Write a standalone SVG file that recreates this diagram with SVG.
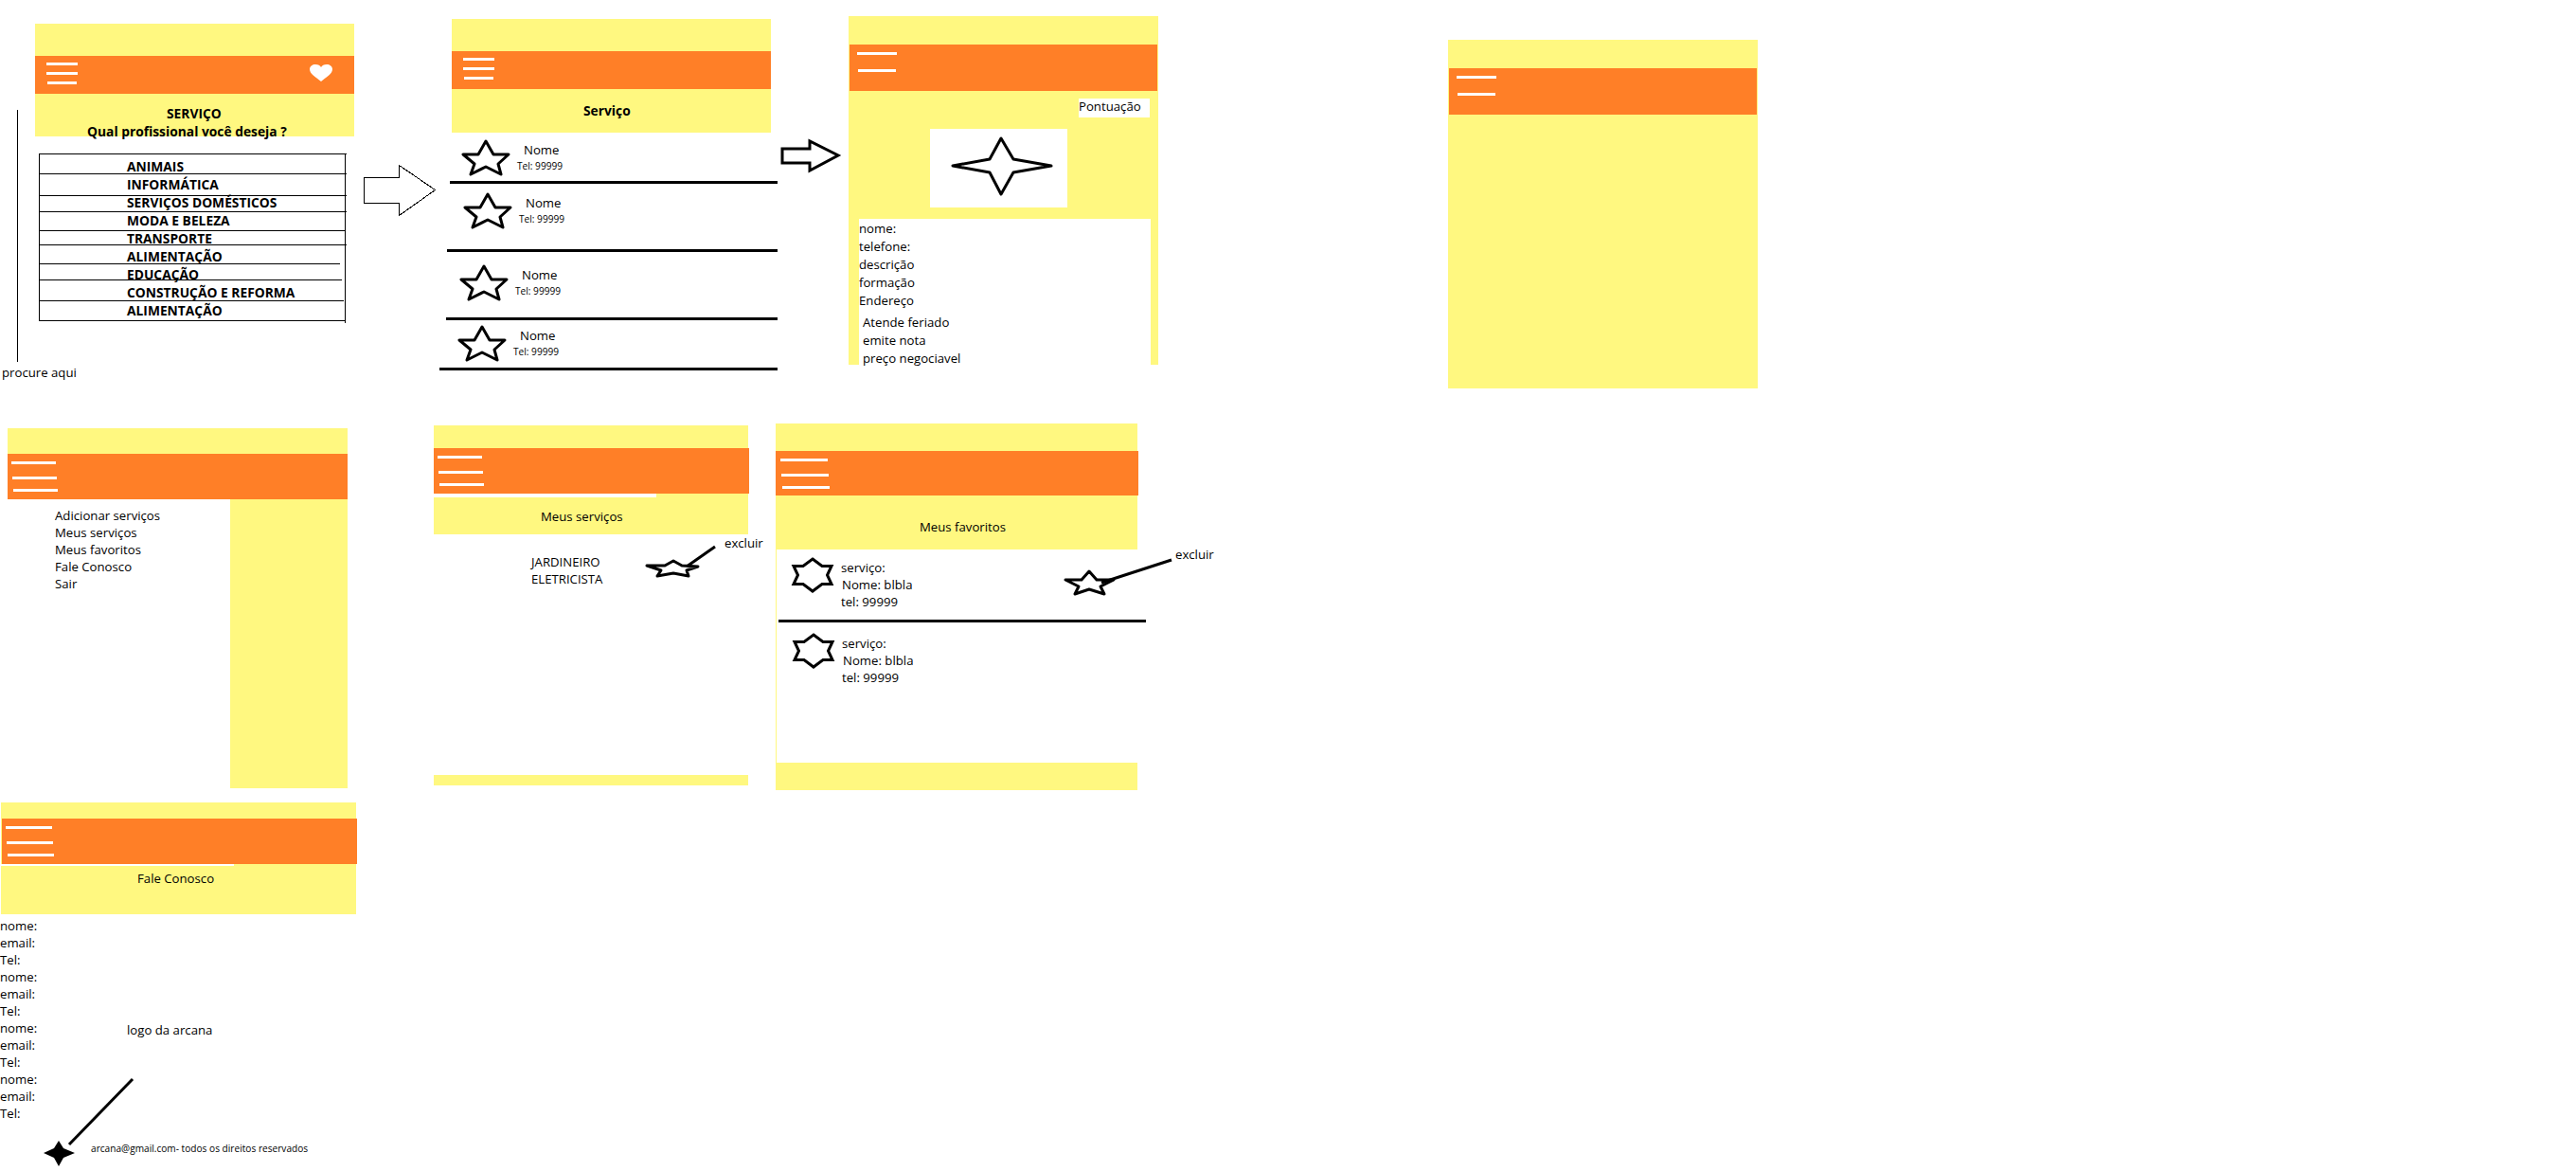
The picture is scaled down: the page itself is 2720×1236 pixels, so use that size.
<svg xmlns="http://www.w3.org/2000/svg" width="2720" height="1236" viewBox="0 0 2720 1236">
<style>
.y{fill:#fff880}.o{fill:#ff7f27}.w{fill:#fff}.k{fill:#000}
text{font-family:"Open Sans","Noto Sans","Liberation Sans",sans-serif;font-size:13.2px;fill:#000}
.b{font-weight:700;font-size:13.8px}
.s{font-size:10.15px}
.l{stroke:#000;stroke-width:1;fill:none;shape-rendering:crispEdges}
.t{stroke:#000;stroke-width:3;fill:none}
.st{stroke:#000;stroke-width:3;fill:#fff;stroke-linejoin:round}
.sm{stroke:#000;stroke-width:3;fill:#fff;stroke-linejoin:miter;stroke-miterlimit:6}
.a{stroke:#000;stroke-width:1;fill:#fff;shape-rendering:crispEdges}
</style>
<defs>
<polygon id="star5" class="st" points="0,3 8,17 24,17 13,27 16,38 0,30 -16,38 -12,27 -24,17 -8,17"/>
<polygon id="star6" class="sm" points="0,2 10,9.500 20,9.500 15.500,19 20,28.500 10,28.500 0,36 -10,28.500 -20,28.500 -15.500,19 -20,9.500 -10,9.500"/>
</defs>
<rect width="2720" height="1236" class="w"/>

<g id="screen-servico">
<rect x="37" y="25" width="337" height="119" class="y"/>
<rect x="37" y="59" width="337" height="40" class="o"/>
<rect x="49" y="66" width="33" height="3" class="w"/><rect x="49" y="76" width="33" height="3" class="w"/><rect x="50" y="86" width="31" height="3" class="w"/>
<path d="M339 86C333 81 327 78 327 73C327 70 330 68 333 68C336 68 338 69 339 71C340 69 342 68 345 68C348 68 351 70 351 73C351 78 345 81 339 86Z" class="w"/>
<text x="176" y="125" class="b">SERVIÇO</text>
<text x="92" y="144" class="b">Qual profissional você deseja ?</text>
<path class="l" d="M41 162.500H366M41 183.500H366M41 206.500H366M41 223.500H366M41 243.500H364M41 258.500H366M41 278.500H359M41 295.500H361M41 317.500H363M41 338.500H365M41.500 162V338M364.500 162V341"/>
<text x="134" y="181" class="b">ANIMAIS</text>
<text x="134" y="200" class="b">INFORMÁTICA</text>
<text x="134" y="219" class="b">SERVIÇOS DOMÉSTICOS</text>
<text x="134" y="238" class="b">MODA E BELEZA</text>
<text x="134" y="257" class="b">TRANSPORTE</text>
<text x="134" y="276" class="b">ALIMENTAÇÃO</text>
<text x="134" y="295" class="b">EDUCAÇÃO</text>
<text x="134" y="314" class="b">CONSTRUÇÃO E REFORMA</text>
<text x="134" y="333" class="b">ALIMENTAÇÃO</text>
<text x="2" y="398">procure aqui</text>
</g>

<g id="screen-lista">
<rect x="477" y="20" width="337" height="120" class="y"/>
<rect x="477" y="54" width="337" height="40" class="o"/>
<rect x="489" y="61" width="33" height="3" class="w"/><rect x="489" y="71" width="33" height="3" class="w"/><rect x="490" y="81" width="31" height="3" class="w"/>
<text x="616" y="122" class="b">Serviço</text>
<rect x="475" y="191" width="346" height="3" class="k"/>
<rect x="472" y="263" width="349" height="3" class="k"/>
<rect x="471" y="335" width="350" height="3" class="k"/>
<rect x="464" y="388" width="357" height="3" class="k"/>
<use href="#star5" x="513" y="146"/>
<use href="#star5" x="515" y="202"/>
<use href="#star5" x="511" y="278"/>
<use href="#star5" x="509" y="342"/>
<text x="553" y="163">Nome</text><text x="546" y="179" class="s">Tel: 99999</text>
<text x="555" y="219">Nome</text><text x="548" y="235" class="s">Tel: 99999</text>
<text x="551" y="295">Nome</text><text x="544" y="311" class="s">Tel: 99999</text>
<text x="549" y="359">Nome</text><text x="542" y="375" class="s">Tel: 99999</text>
</g>

<g id="screen-detalhe">
<rect x="896" y="17" width="327" height="368" class="y"/>
<rect x="897" y="47" width="325" height="49" class="o"/>
<rect x="905" y="55" width="42" height="3" class="w"/><rect x="906" y="73" width="40" height="3" class="w"/>
<rect x="1139" y="104" width="75" height="20" class="w"/>
<text x="1139" y="117">Pontuação</text>
<rect x="982" y="136" width="145" height="83" class="w"/>
<polygon class="st" points="1057,146 1045,168 1006,175 1045,182 1057,205 1070,182 1110,175 1070,168"/>
<rect x="907" y="231" width="308" height="154" class="w"/>
<text x="907" y="246">nome:</text>
<text x="907" y="265">telefone:</text>
<text x="907" y="284">descrição</text>
<text x="907" y="303">formação</text>
<text x="907" y="322">Endereço</text>
<text x="911" y="345">Atende feriado</text>
<text x="911" y="364">emite nota</text>
<text x="911" y="383">preço negociavel</text>
</g>

<g id="screen-vazia">
<rect x="1529" y="42" width="327" height="368" class="y"/>
<rect x="1530" y="72" width="325" height="49" class="o"/>
<rect x="1538" y="80" width="42" height="3" class="w"/><rect x="1539" y="98" width="40" height="3" class="w"/>
</g>

<g id="screen-menu">
<rect x="8" y="452" width="359" height="27" class="y"/>
<rect x="243" y="527" width="124" height="305" class="y"/>
<rect x="8" y="479" width="359" height="48" class="o"/>
<rect x="12" y="487" width="47" height="3" class="w"/><rect x="13" y="503" width="47" height="3" class="w"/><rect x="14" y="516" width="47" height="3" class="w"/>
<text x="58" y="549">Adicionar serviços</text>
<text x="58" y="567">Meus serviços</text>
<text x="58" y="585">Meus favoritos</text>
<text x="58" y="603">Fale Conosco</text>
<text x="58" y="621">Sair</text>
</g>

<g id="screen-meus-servicos">
<rect x="458" y="449" width="332" height="115" class="y"/>
<rect x="458" y="521" width="235" height="4" class="w"/>
<rect x="458" y="473" width="333" height="48" class="o"/>
<rect x="462" y="481" width="47" height="3" class="w"/><rect x="463" y="497" width="47" height="3" class="w"/><rect x="464" y="510" width="47" height="3" class="w"/>
<text x="571" y="550">Meus serviços</text>
<text x="765" y="578">excluir</text>
<text x="561" y="598">JARDINEIRO</text>
<text x="561" y="616">ELETRICISTA</text>
<polygon class="st" points="711,592 720,597 737,598 725,602 727,608 711,605 694,608 698,602 683,597 702,597"/>
<rect x="458" y="818" width="332" height="11" class="y"/>
</g>

<g id="screen-favoritos">
<rect x="819" y="447" width="382" height="387" class="y"/>
<rect x="820" y="580" width="381" height="225" class="w"/>
<rect x="819" y="476" width="383" height="47" class="o"/>
<rect x="824" y="484" width="50" height="3" class="w"/><rect x="825" y="500" width="50" height="3" class="w"/><rect x="826" y="513" width="50" height="3" class="w"/>
<text x="971" y="561">Meus favoritos</text>
<text x="1241" y="590">excluir</text>
<rect x="822" y="654" width="388" height="3" class="k"/>
<use href="#star6" x="858" y="588"/>
<use href="#star6" x="859" y="668"/>
<text x="888" y="604">serviço:</text>
<text x="889" y="622">Nome: blbla</text>
<text x="888" y="640">tel: 99999</text>
<text x="889" y="684">serviço:</text>
<text x="890" y="702">Nome: blbla</text>
<text x="889" y="720">tel: 99999</text>
<polygon class="st" points="1150,603 1158,612 1176,612 1162,619 1166,627 1150,622 1135,627 1139,619 1125,612 1142,612"/>
</g>

<g id="screen-fale-conosco">
<rect x="1" y="847" width="375" height="118" class="y"/>
<rect x="1" y="912" width="246" height="2" class="w"/>
<rect x="2" y="864" width="375" height="48" class="o"/>
<rect x="6" y="872" width="49" height="3" class="w"/><rect x="7" y="888" width="49" height="3" class="w"/><rect x="8" y="901" width="49" height="3" class="w"/>
<text x="145" y="932">Fale Conosco</text>
<text x="0" y="982">nome:</text><text x="0" y="1000">email:</text><text x="0" y="1018">Tel:</text>
<text x="0" y="1036">nome:</text><text x="0" y="1054">email:</text><text x="0" y="1072">Tel:</text>
<text x="0" y="1090">nome:</text><text x="0" y="1108">email:</text><text x="0" y="1126">Tel:</text>
<text x="0" y="1144">nome:</text><text x="0" y="1162">email:</text><text x="0" y="1180">Tel:</text>
<text x="134" y="1092">logo da arcana</text>
<polygon class="k" points="62,1204 67,1212 79,1217 67,1222 62,1231 57,1222 46,1217 57,1212"/>
<text x="96" y="1216" class="s">arcana@gmail.com- todos os direitos reservados</text>
</g>

<g id="connectors">
<path class="l" d="M18.500 116V382"/>
<polygon class="a" points="384.500,187.500 421.500,187.500 421.500,174.500 459.500,200.500 421.500,227.500 421.500,214.500 384.500,214.500"/>
<polygon class="t" points="826,157 855,157 855,149 885,164 855,180 855,172 826,172"/>
<path class="t" d="M755 577L725 598"/>
<path class="t" d="M1237 591L1163 615"/>
<path class="t" d="M140 1139L73 1208"/>
</g>
</svg>
